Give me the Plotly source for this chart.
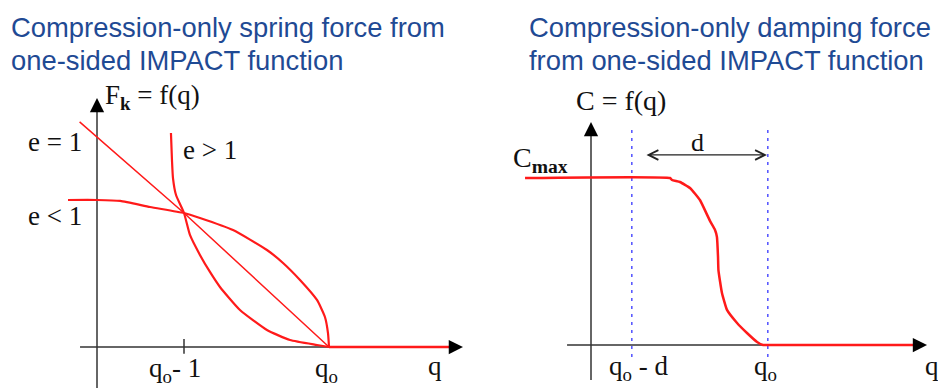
import plotly.graph_objects as go

# ---------------- Left panel: spring force F_k = f(q) ----------------
# x in q-units (y-axis at q = 0), y in force units (F = 1 at q = q0 - 1)
Q0_LEFT = 1.6
TICK_LEFT = Q0_LEFT - 1.0

e_eq1_x = [-0.12, 0.6, 1.6]
e_eq1_y = [1.68, 1.0, 0.0]

e_lt1_x = [-0.2, 0.0, 0.16, 0.366, 0.6, 0.71, 0.938, 1.172, 1.283, 1.4, 1.517, 1.572, 1.593, 1.6]
e_lt1_y = [1.097, 1.097, 1.09, 1.045, 1.0, 0.963, 0.873, 0.724, 0.627, 0.5, 0.351, 0.224, 0.104, 0.0]

e_gt1_x = [0.51, 0.517, 0.524, 0.545, 0.6, 0.641, 0.71, 0.779, 0.848, 0.986, 1.172, 1.331, 1.517, 1.6]
e_gt1_y = [1.597, 1.396, 1.261, 1.134, 1.0, 0.836, 0.687, 0.56, 0.448, 0.276, 0.127, 0.052, 0.015, 0.0]

spring_free_x = [1.6, 2.47]
spring_free_y = [0.0, 0.0]

# ---------------- Right panel: damping C = f(q) ----------------
# x in units of d (y-axis at q = 0), y in units of Cmax
Q0_RIGHT = 1.3
D_WIDTH = 1.0

damp_x = [-0.485, 0.581, 0.596, 0.654, 0.728, 0.801, 0.875, 0.912, 0.926, 0.934, 0.937,
          0.963, 1.0, 1.074, 1.147, 1.221, 1.265, 1.3, 2.368]
damp_y = [1.0, 1.0, 0.988, 0.976, 0.94, 0.868, 0.743, 0.689, 0.647, 0.527, 0.449,
          0.311, 0.21, 0.132, 0.072, 0.018, 0.0, 0.0, 0.0]

# ---------------- page geometry ----------------
W, H = 938, 388
# left panel scale: origin pixel and pixels per unit
L_OX, L_OY, L_SX, L_SY = 97, 347, 145, 134
# right panel scale
R_OX, R_OY, R_SX, R_SY = 591, 345, 136, 167
SPLIT = 469

RED = "#ff1a1a"
AXIS = "#333333"
BLUE_DOT = "#5a5aff"
TITLE_BLUE = "#1f4a94"
SERIF = "Liberation Serif, Times New Roman, serif"
SANS = "Liberation Sans, Arial, sans-serif"

fig = go.Figure()


def line(x, y, color, width, xa="x", ya="y", dash=None, shape="linear", smooth=None):
    ln = dict(color=color, width=width, dash=dash, shape=shape)
    if smooth is not None:
        ln["smoothing"] = smooth
    fig.add_trace(go.Scatter(x=x, y=y, mode="lines", xaxis=xa, yaxis=ya,
                             line=ln, hoverinfo="skip"))


# axes of the left panel (drawn first so the red curves sit on top)
line([-0.117, 2.50], [0, 0], AXIS, 1.5)
line([0, 0], [-0.31, 1.84], AXIS, 1.5)
line([TICK_LEFT, TICK_LEFT], [-0.05, 0.06], AXIS, 1.5)

# spring curves
line(e_eq1_x, e_eq1_y, RED, 1.5)
line(e_lt1_x, e_lt1_y, RED, 2.2, shape="spline", smooth=0.5)
line(e_gt1_x, e_gt1_y, RED, 2.2, shape="spline", smooth=0.5)
line(spring_free_x, spring_free_y, RED, 2.5)

# axes of the right panel
line([-0.176, 2.45], [0, 0], AXIS, 1.5, "x2", "y2")
line([0, 0], [-0.21, 1.32], AXIS, 1.5, "x2", "y2")

# dotted markers at q0 - d and q0
for xv in (Q0_RIGHT - D_WIDTH, Q0_RIGHT):
    line([xv, xv], [-0.072, 1.287], BLUE_DOT, 1.6, "x2", "y2", dash="3px,5px")

# damping curve
line(damp_x, damp_y, RED, 2.5, "x2", "y2", shape="spline", smooth=0.4)

annotations = []


def arrow_head(x, y, ax, ay, xref, yref):
    annotations.append(dict(x=x, y=y, xref=xref, yref=yref, ax=ax, ay=ay,
                            showarrow=True, arrowhead=2, arrowsize=1.9,
                            arrowwidth=1.5, arrowcolor="#000000", text=""))


arrow_head(2.524, 0, -14, 0, "x", "y")
arrow_head(0, 1.858, 0, 14, "x", "y")
arrow_head(2.471, 0, -14, 0, "x2", "y2")
arrow_head(0, 1.335, 0, 14, "x2", "y2")

# double arrow spanning d
annotations.append(dict(x=Q0_RIGHT - 0.006, y=1.138, ax=Q0_RIGHT - D_WIDTH + 0.097, ay=1.138,
                        xref="x2", yref="y2", axref="x2", ayref="y2",
                        showarrow=True, arrowhead=5, startarrowhead=5, arrowside="end+start",
                        arrowsize=1.6, startarrowsize=1.6, arrowwidth=1.2,
                        arrowcolor="#222222", text=""))


def label(text, px, py, size, family=SERIF, color="#111111", xanchor="left"):
    annotations.append(dict(text=text, x=px / W, y=1 - py / H, xref="paper", yref="paper",
                            xanchor=xanchor, yanchor="middle", showarrow=False,
                            font=dict(family=family, size=size, color=color)))


# titles
label("Compression-only spring force from", 9, 28, 27.4, SANS, TITLE_BLUE)
label("one-sided IMPACT function", 9, 60, 27.4, SANS, TITLE_BLUE)
label("Compression-only damping force", 527, 28, 27.4, SANS, TITLE_BLUE)
label("from one-sided IMPACT function", 527, 60, 27.4, SANS, TITLE_BLUE)

# left panel text
label("F<sub><b>k</b></sub> = f(q)", 103, 97, 27)
label("e = 1", 26, 142, 27)
label("e &lt; 1", 26, 216, 27)
label("e &gt; 1", 181, 150, 27)
label("q<sub>o</sub>- 1", 175, 370, 27, xanchor="center")
label("q<sub>o</sub>", 326, 370, 27, xanchor="center")
label("q", 435, 366, 27, xanchor="center")

# right panel text
label("C = f(q)", 574, 101, 28)
label("C<sub><b>max</b></sub>", 511, 159, 28)
label("d", 697, 142, 26, xanchor="center")
label("q<sub>o</sub> - d", 638, 368, 27, xanchor="center")
label("q<sub>o</sub>", 765, 368, 27, xanchor="center")
label("q", 932, 366, 27, xanchor="center")

fig.update_layout(
    width=W, height=H,
    margin=dict(l=0, r=0, t=0, b=0),
    paper_bgcolor="white", plot_bgcolor="white",
    showlegend=False,
    annotations=annotations,
    xaxis=dict(domain=[0, SPLIT / W], range=[-L_OX / L_SX, (SPLIT - L_OX) / L_SX],
               visible=False, fixedrange=True),
    yaxis=dict(domain=[0, 1], range=[(L_OY - H) / L_SY, L_OY / L_SY],
               visible=False, fixedrange=True),
    xaxis2=dict(domain=[SPLIT / W, 1], range=[(SPLIT - R_OX) / R_SX, (W - R_OX) / R_SX],
                visible=False, fixedrange=True, anchor="y2"),
    yaxis2=dict(domain=[0, 1], range=[(R_OY - H) / R_SY, R_OY / R_SY],
                visible=False, fixedrange=True, anchor="x2"),
)

fig.write_html("out.html", config={"displayModeBar": False})
